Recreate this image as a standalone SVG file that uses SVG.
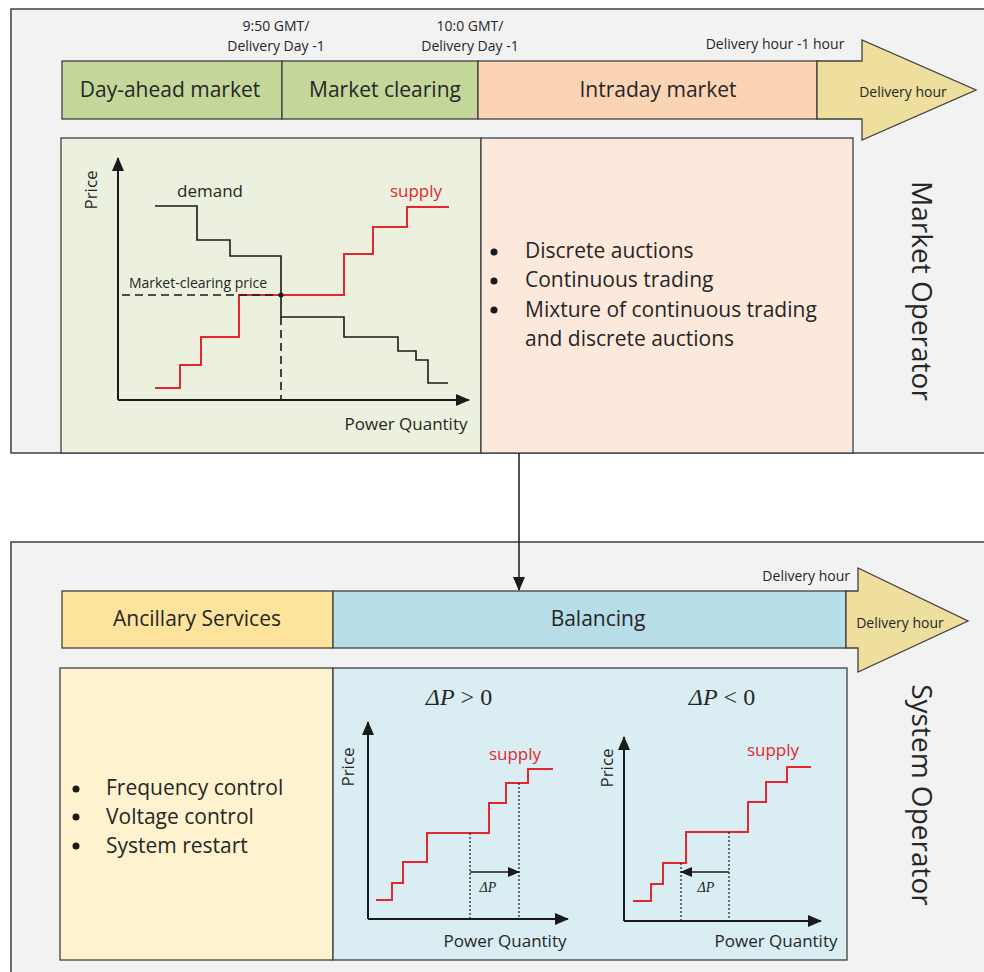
<svg xmlns="http://www.w3.org/2000/svg" width="984" height="972" viewBox="0 0 984 972">
<style>
text{font-family:"Open Sans","Liberation Sans",sans-serif;fill:#262626}
.panel{fill:#f2f2f2;stroke:#404040;stroke-width:1.5}
.bx{stroke:#404040;stroke-width:1.3}
.lbl{font-size:21px;text-anchor:middle}
.sm{font-size:14px;text-anchor:middle}
.ax{fill:none;stroke:#1a1a1a;stroke-width:2}
.dem{fill:none;stroke:#1a1a1a;stroke-width:1.6}
.sup{fill:none;stroke:#e0282e;stroke-width:2}
.dot{fill:none;stroke:#1a1a1a;stroke-width:1.2;stroke-dasharray:2 2}
.dash{fill:none;stroke:#1a1a1a;stroke-width:1.6;stroke-dasharray:8 5}
.ax17{font-size:17px}
.bul{font-size:21px}
.math{font-family:"Liberation Serif",serif;fill:#262626}
</style>
<defs>
<marker id="ah" markerWidth="14" markerHeight="12" refX="13" refY="6" orient="auto" markerUnits="userSpaceOnUse">
<path d="M0,0 L14,6 L0,12 Z" fill="#1a1a1a"/>
</marker>
<marker id="ahs" markerWidth="12" markerHeight="10" refX="11" refY="5" orient="auto" markerUnits="userSpaceOnUse">
<path d="M0,0 L12,5 L0,10 Z" fill="#1a1a1a"/>
</marker>
</defs>

<g id="market-operator">
<rect class="panel" x="11" y="9" width="990" height="444"/>
<text x="923" y="291" font-size="28" text-anchor="middle" transform="rotate(90 923 291)" dominant-baseline="central">Market Operator</text>
</g>

<g id="system-operator">
<rect class="panel" x="11" y="542" width="990" height="450"/>
<text x="923" y="795" font-size="28" text-anchor="middle" transform="rotate(90 923 795)" dominant-baseline="central">System Operator</text>
</g>

<g id="day-ahead">
<rect class="bx" x="62" y="61" width="220" height="58" fill="#c4d79b"/>
<text class="lbl" x="170" y="97">Day-ahead market</text>
</g>
<g id="market-clearing">
<rect class="bx" x="282" y="61" width="196" height="58" fill="#c4d79b"/>
<text class="lbl" x="385" y="97">Market clearing</text>
<text class="sm" x="276" y="31">9:50 GMT/</text>
<text class="sm" x="276" y="51">Delivery Day -1</text>
</g>
<g id="intraday">
<rect class="bx" x="478" y="61" width="339" height="58" fill="#fbd4b4"/>
<text class="lbl" x="658" y="97">Intraday market</text>
<text class="sm" x="470" y="31">10:0 GMT/</text>
<text class="sm" x="470" y="51">Delivery Day -1</text>
<text class="sm" x="775" y="49">Delivery hour -1 hour</text>
</g>
<g id="delivery-hour-top">
<polygon class="bx" points="817,61 862,61 862,40 976,90 862,140 862,119 817,119" fill="#efdf9f"/>
<text class="sm" x="903" y="97">Delivery hour</text>
</g>

<g id="day-ahead-chart">
<rect class="bx" x="61" y="138" width="420" height="315" fill="#ebf1de"/>
<line class="ax" x1="118" y1="400" x2="118" y2="158" marker-end="url(#ah)"/>
<line class="ax" x1="118" y1="400" x2="469" y2="400" marker-end="url(#ah)"/>
<text class="ax17" x="97" y="190" text-anchor="middle" transform="rotate(-90 97 190)">Price</text>
<text class="ax17" x="210" y="197" text-anchor="middle">demand</text>
<text class="ax17" x="416" y="197" text-anchor="middle" style="fill:#e0282e">supply</text>
<polyline class="dem" points="155,206 197,206 197,240 230,240 230,256 281,256 281,317 344,317 344,337 398,337 398,351 416,351 416,360 428,360 428,383 448,383"/>
<polyline class="sup" points="155,388 180,388 180,365 201,365 201,337 239,337 239,295 344,295 344,254 373,254 373,227 407,227 407,207 449,207"/>
<line class="dash" x1="122" y1="295" x2="281" y2="295"/>
<line class="dash" x1="281" y1="317" x2="281" y2="400"/>
<circle cx="281" cy="295" r="2.5" fill="#1a1a1a"/>
<text x="198" y="288" font-size="14" text-anchor="middle">Market-clearing price</text>
<text class="ax17" x="406" y="430" text-anchor="middle">Power Quantity</text>
</g>

<g id="intraday-list">
<rect class="bx" x="481" y="138" width="372" height="315" fill="#fde9dc"/>
<circle cx="494" cy="252" r="3.5" fill="#1a1a1a"/>
<circle cx="494" cy="281" r="3.5" fill="#1a1a1a"/>
<circle cx="494" cy="310" r="3.5" fill="#1a1a1a"/>
<text class="bul" x="525" y="258">Discrete auctions</text>
<text class="bul" x="525" y="287">Continuous trading</text>
<text class="bul" x="525" y="317">Mixture of continuous trading</text>
<text class="bul" x="525" y="346">and discrete auctions</text>
</g>

<g id="ancillary">
<rect class="bx" x="62" y="591" width="271" height="57" fill="#fde39b"/>
<text class="lbl" x="197" y="626">Ancillary Services</text>
</g>
<g id="balancing">
<rect class="bx" x="333" y="591" width="513" height="57" fill="#b7dde8"/>
<text class="lbl" x="598" y="626">Balancing</text>
<text x="850" y="581" font-size="14" text-anchor="end">Delivery hour</text>
</g>
<g id="delivery-hour-bottom">
<polygon class="bx" points="846,591 858,591 858,568 968,621 858,672 858,648 846,648" fill="#efdf9f"/>
<text class="sm" x="900" y="628">Delivery hour</text>
</g>

<g id="ancillary-list">
<rect class="bx" x="60" y="668" width="273" height="292" fill="#fff2cf"/>
<circle cx="76" cy="789" r="3.5" fill="#1a1a1a"/>
<circle cx="76" cy="817" r="3.5" fill="#1a1a1a"/>
<circle cx="76" cy="846" r="3.5" fill="#1a1a1a"/>
<text class="bul" x="106" y="795">Frequency control</text>
<text class="bul" x="106" y="824">Voltage control</text>
<text class="bul" x="106" y="853">System restart</text>
</g>

<g id="balancing-charts">
<rect class="bx" x="333" y="668" width="514" height="292" fill="#daedf3"/>
<text class="math" x="459" y="705" font-size="24" text-anchor="middle"><tspan font-style="italic">ΔP</tspan> &gt; 0</text>
<line class="ax" x1="368" y1="919" x2="368" y2="722" marker-end="url(#ah)"/>
<line class="ax" x1="368" y1="919" x2="568" y2="919" marker-end="url(#ah)"/>
<text class="ax17" x="354" y="767" text-anchor="middle" transform="rotate(-90 354 767)">Price</text>
<text class="ax17" x="515" y="760" text-anchor="middle" style="fill:#e0282e">supply</text>
<polyline class="sup" points="376,900 392,900 392,883 403,883 403,862 427,862 427,833 489,833 489,803 506,803 506,783 528,783 528,769 553,769"/>
<line class="dot" x1="470" y1="833" x2="470" y2="919"/>
<line class="dot" x1="519" y1="783" x2="519" y2="919"/>
<line x1="470" y1="872" x2="519" y2="872" stroke="#1a1a1a" stroke-width="1.4" marker-end="url(#ahs)"/>
<text class="math" x="488" y="892" font-size="14" font-style="italic" text-anchor="middle">ΔP</text>
<text class="ax17" x="505" y="947" text-anchor="middle">Power Quantity</text>

<text class="math" x="722" y="705" font-size="24" text-anchor="middle"><tspan font-style="italic">ΔP</tspan> &lt; 0</text>
<line class="ax" x1="624" y1="921" x2="624" y2="737" marker-end="url(#ah)"/>
<line class="ax" x1="624" y1="921" x2="821" y2="921" marker-end="url(#ah)"/>
<text class="ax17" x="613" y="768" text-anchor="middle" transform="rotate(-90 613 768)">Price</text>
<text class="ax17" x="773" y="756" text-anchor="middle" style="fill:#e0282e">supply</text>
<polyline class="sup" points="633,901 651,901 651,884 663,884 663,863 686,863 686,832 748,832 748,802 766,802 766,782 787,782 787,767 811,767"/>
<line class="dot" x1="681" y1="863" x2="681" y2="921"/>
<line class="dot" x1="729" y1="832" x2="729" y2="921"/>
<line x1="729" y1="872" x2="681" y2="872" stroke="#1a1a1a" stroke-width="1.4" marker-end="url(#ahs)"/>
<text class="math" x="706" y="892" font-size="14" font-style="italic" text-anchor="middle">ΔP</text>
<text class="ax17" x="776" y="947" text-anchor="middle">Power Quantity</text>
</g>

<g id="connectors">
<line x1="519" y1="453" x2="519" y2="590" stroke="#1a1a1a" stroke-width="1.5" marker-end="url(#ah)"/>
</g>
</svg>
